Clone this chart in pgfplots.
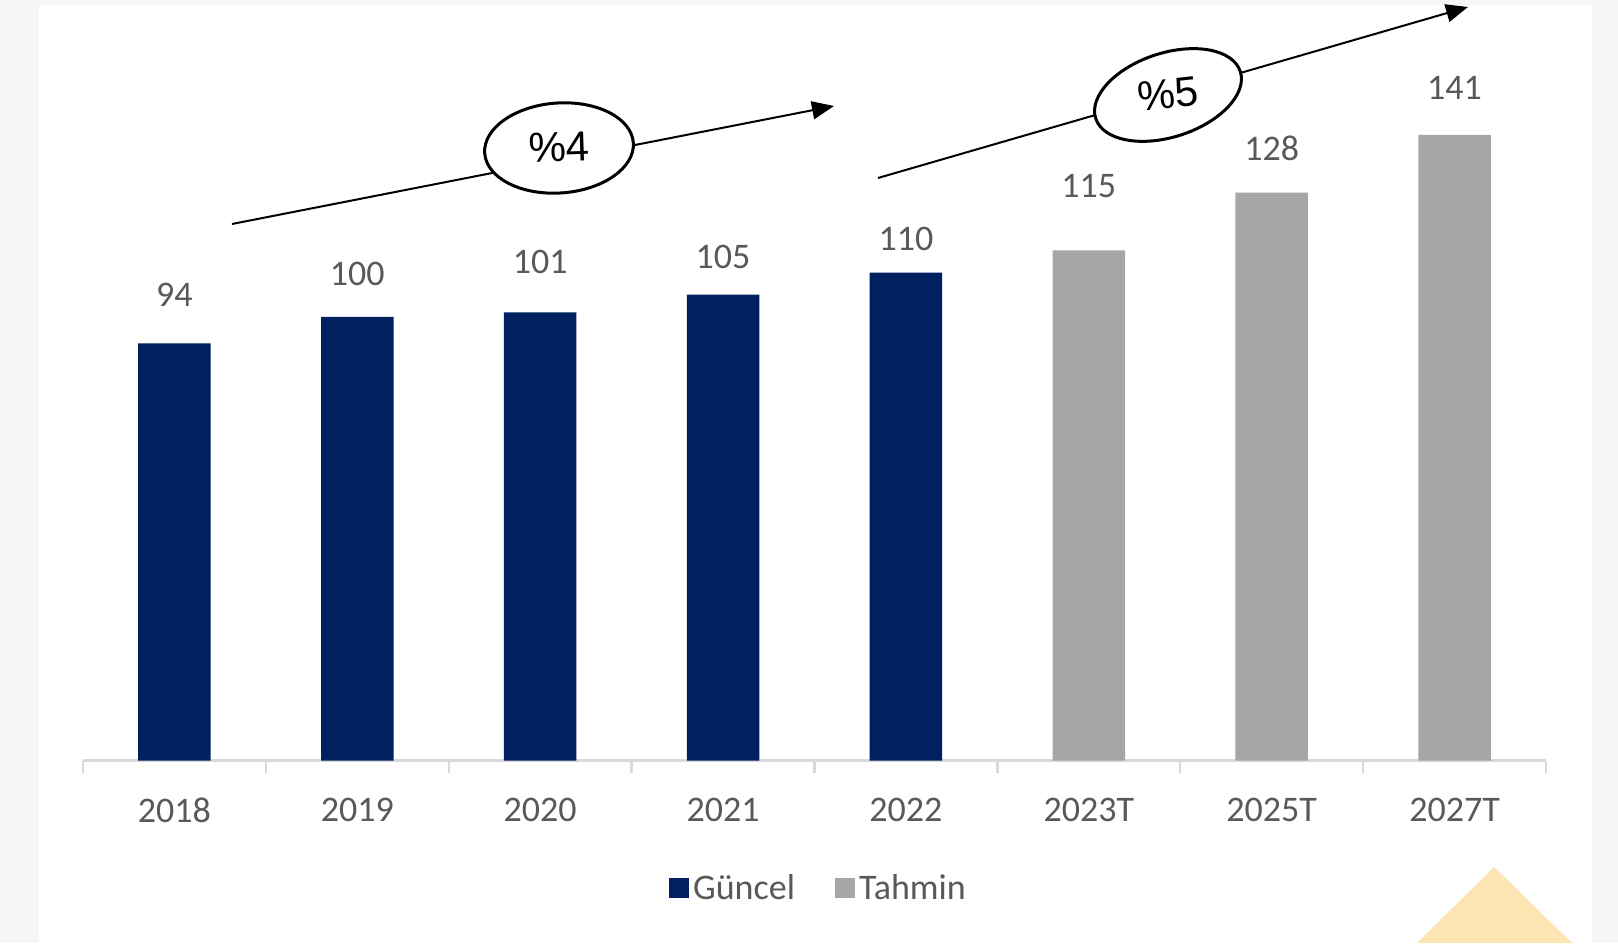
\documentclass[border=0pt]{standalone}
\usepackage{pgfplots}
\usepackage{pgfplotstable}
\pgfplotsset{compat=1.18}
\usepackage{fontspec}
\setmainfont{Carlito}
\newfontfamily\arialf{Liberation Sans}
\usetikzlibrary{arrows.meta,shapes.geometric}
\definecolor{navy}{HTML}{002060}
\definecolor{fgrey}{HTML}{A6A6A6}
\definecolor{axgrey}{HTML}{D9D9D9}
\definecolor{txt}{HTML}{595959}
\definecolor{bggrey}{HTML}{F6F6F6}
\definecolor{tri}{HTML}{FCE5B3}
\pgfplotsset{sq legend/.style={legend image code/.code={\fill[##1] (0pt,-5pt) rectangle (10pt,5pt);}}}
\pgfplotstableread{
x y dy
0 94 18.5
1 100 15.4
2 101 19.0
3 105 12.8
4 110 10.8
}\guncel
\pgfplotstableread{
x y dy
5 115 26.3
6 128 15.9
7 141 17.5
}\tahmin
\begin{document}
\begin{tikzpicture}
\useasboundingbox (0,0) rectangle (809pt,471.5pt);
\fill[bggrey] (0,0) rectangle (809pt,471.5pt);
\begin{scope}[x=0.5pt,y=-0.5pt,shift={(0pt,471.5pt)}]
\fill[white] (39,5) rectangle (1592,943);
\fill[tri] (1417,943) -- (1494,867) -- (1572,943) -- cycle;
\end{scope}
\begin{axis}[
  at={(41.5pt,91.25pt)}, anchor=south west,
  scale only axis, width=731.5pt, height=354.9pt,
  xmin=-0.5, xmax=7.5, ymin=0, ymax=160, enlargelimits=false, clip=false,
  ybar, bar width=36.25pt, bar shift=0pt,
  hide y axis, axis x line=bottom,
  x axis line style={-, draw=axgrey, line width=1.5pt},
  xtick={0,...,7}, xticklabels={2018,2019,2020,2021,2022,2023T,2025T,2027T},
  major tick length=0pt,
  minor xtick={-0.5,0.5,...,7.5}, minor tick length=6pt, tick align=outside,
  minor tick style={draw=axgrey, line width=1.2pt},
  xticklabel style={font=\fontsize{18}{20}\selectfont, text=txt, inner sep=0pt, yshift=-18.5pt},
  /pgf/number format/assume math mode=true,
  nodes near coords,
  visualization depends on={\thisrow{dy} \as \dy},
  every node near coord/.append style={font=\fontsize{18}{20}\selectfont, text=txt, inner sep=0pt, yshift=\dy pt},
  legend style={at={(0.5,0)}, anchor=center, yshift=-63.75pt, xshift=2.5pt, draw=none, fill=none,
    legend columns=2, font=\fontsize{18}{20}\selectfont, text=txt,
    /tikz/every even column/.append style={column sep=18pt}},
]
\addplot[fill=navy, draw=none, sq legend] table[x=x,y=y] {\guncel};
\addplot[fill=fgrey, draw=none, sq legend] table[x=x,y=y] {\tahmin};
\legend{Güncel, Tahmin}
\end{axis}
\begin{scope}[x=0.5pt,y=-0.5pt,shift={(0pt,471.5pt)}]
\draw[line width=1pt, -{Triangle[length=11pt,width=9pt]}] (232,224) -- (834,106);
\node[draw, line width=1.5pt, fill=white, ellipse, inner sep=0pt, minimum width=74.5pt, minimum height=45pt, rotate=4] at (559,148) {};
\node[rotate=2] at (559,147) {\arialf\fontsize{21}{22}\selectfont\%4};
\draw[line width=1pt, -{Triangle[length=11pt,width=9pt]}] (878,178) -- (1468,7);
\node[draw, line width=1.5pt, fill=white, ellipse, inner sep=0pt, minimum width=76pt, minimum height=42pt, rotate=18] at (1168,95) {};
\node[rotate=6] at (1168,94) {\arialf\fontsize{21}{22}\selectfont\%5};
\end{scope}
\end{tikzpicture}
\end{document}
